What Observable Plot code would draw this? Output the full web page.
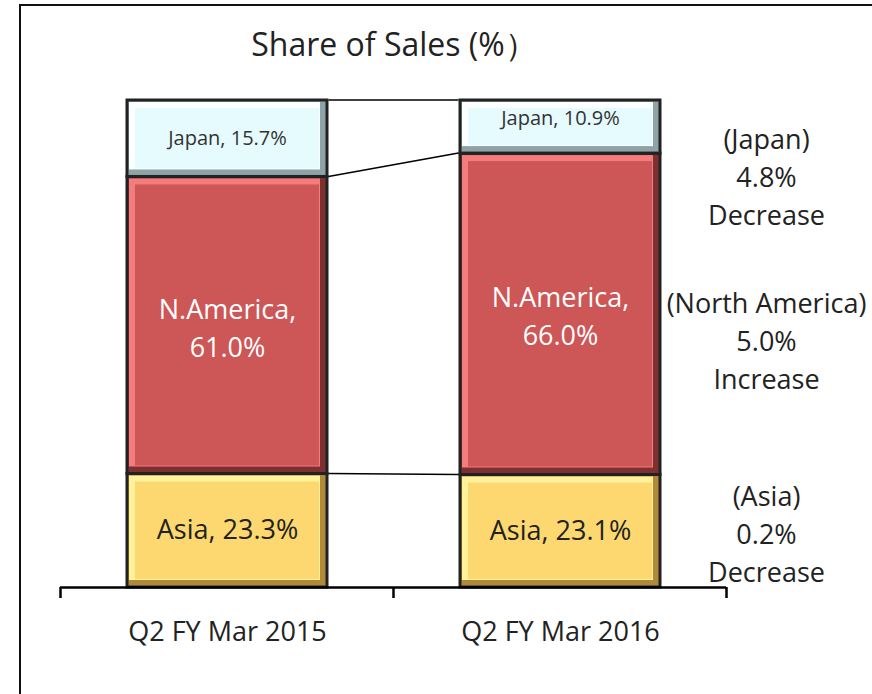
<!DOCTYPE html>
<html>
<head>
<meta charset="utf-8">
<script src="https://cdn.jsdelivr.net/npm/d3@7"></script>
<script src="https://cdn.jsdelivr.net/npm/@observablehq/plot@0.6"></script>
<style>
  html, body { margin: 0; padding: 0; background: #fff; }
  body { width: 872px; height: 694px; position: relative; overflow: hidden; font-family: "Open Sans", sans-serif; }
  #frame { position: absolute; left: 19px; top: 4px; width: 900px; height: 760px; border-left: 2.5px solid #111; border-top: 2.5px solid #111; }
  #title { position: absolute; top: 22px; left: 0; width: 788px; text-align: center; font-size: 32px; line-height: 44px; color: #222; letter-spacing: 0px; }
  #chart { position: absolute; left: 0; top: 88px; }
</style>
</head>
<body>
<div id="frame"></div>
<div id="title">Share of Sales (%）</div>
<div id="chart"></div>
<script>
const periods = ["Q2 FY Mar 2015", "Q2 FY Mar 2016"];
const regions = ["Asia", "N.America", "Japan"];           // bottom to top
const regionNames = ["Asia", "North America", "Japan"];
const share2015 = [23.3, 61.0, 15.7];
const share2016 = [23.1, 66.0, 10.9];

const mainColor = {"Asia": "#fdd870", "N.America": "#cd5656", "Japan": "#e6fbfe"};
const lightColor = {"Asia": "#fff29a", "N.America": "#f47c7c", "Japan": "#fbffff"};
const shadeColor = {"Asia": "#b08a3a", "N.America": "#7e3030", "Japan": "#8ea3a8"};

// build stacked rows
const rows = [];
[share2015, share2016].forEach((vals, pi) => {
  let lo = 0;
  vals.forEach((v, ri) => {
    rows.push({period: periods[pi], region: regions[ri], value: v, lo, hi: lo + v, mid: lo + v / 2});
    lo += v;
  });
});

const fmt = v => v.toFixed(1) + "%";
const changes = regions.map((r, i) => {
  const d = share2016[i] - share2015[i];
  return {region: r, text: `(${regionNames[i]})\n${fmt(Math.abs(d))}\n${d >= 0 ? "Increase" : "Decrease"}`};
});

const font = "'Open Sans', sans-serif";
const plot = Plot.plot({
  width: 872,
  height: 606,
  marginLeft: 60,
  marginRight: 146,
  marginTop: 12,
  marginBottom: 107,
  style: {fontFamily: font, background: "transparent", overflow: "visible"},
  x: {domain: periods, paddingInner: 0.4, paddingOuter: 0.2, label: null},
  y: {domain: [0, 100], axis: null},
  color: {type: "identity"},
  marks: [
    // bevel: shade layer with outline
    Plot.rectY(rows, {x: "period", y1: "lo", y2: "hi", fill: d => shadeColor[d.region], stroke: "#222", strokeWidth: 3}),
    // highlight layer
    Plot.rectY(rows, {x: "period", y1: "lo", y2: "hi", fill: d => lightColor[d.region], insetTop: 2, insetLeft: 2, insetRight: 7, insetBottom: 7}),
    // main face
    Plot.rectY(rows, {x: "period", y1: "lo", y2: "hi", fill: d => mainColor[d.region], insetTop: 8, insetLeft: 8, insetRight: 8, insetBottom: 8}),
    // baseline
    Plot.ruleY([0], {stroke: "#000", strokeWidth: 2.5}),
    // labels inside segments
    Plot.text(rows.filter(d => d.region === "Japan" && d.period === periods[0]), {x: "period", y: "mid", text: d => `${d.region}, ${fmt(d.value)}`, fontSize: 20, fill: "#333"}),
    Plot.text(rows.filter(d => d.region === "Japan" && d.period === periods[1]), {x: "period", y: "mid", dy: -8, text: d => `${d.region}, ${fmt(d.value)}`, fontSize: 20, fill: "#333"}),
    Plot.text(rows.filter(d => d.region === "N.America"), {x: "period", y: "mid", text: d => `${d.region},\n${fmt(d.value)}`, fontSize: 27, fill: "#fff", lineHeight: 1.41}),
    Plot.text(rows.filter(d => d.region === "Asia"), {x: "period", y: "mid", text: d => `${d.region}, ${fmt(d.value)}`, fontSize: 27, fill: "#222"}),
    // change annotations on the right
    Plot.text([changes[2]], {x: () => periods[1], y: 84.8, dx: 206, text: "text", fontSize: 27, fill: "#222", lineHeight: 1.41}),
    Plot.text([changes[1]], {x: () => periods[1], y: 51.1, dx: 206, text: "text", fontSize: 27, fill: "#222", lineHeight: 1.41}),
    Plot.text([changes[0]], {x: () => periods[1], y: 11.5, dx: 206, text: "text", fontSize: 27, fill: "#222", lineHeight: 1.41}),
    Plot.axisX({tickSize: 0, tickPadding: 34, fontSize: 27, label: null, color: "#222"})
  ]
});

document.getElementById("chart").appendChild(plot);

// connectors and category ticks, positioned through the plot's own scales
const svg = d3.select(plot.tagName.toLowerCase() === "svg" ? plot : plot.querySelector("svg"));
const sx = plot.scale("x"), sy = plot.scale("y");
const bw = sx.bandwidth;
const x0 = sx.apply(periods[0]), x1 = sx.apply(periods[1]);
const step = x1 - x0;
const gap = (step - bw) / 2;
const r2015 = rows.filter(d => d.period === periods[0]);
const r2016 = rows.filter(d => d.period === periods[1]);
const g = svg.append("g").attr("stroke", "#000").attr("stroke-width", 1.6);
r2015.forEach((d, i) => {
  g.append("line")
    .attr("x1", x0 + bw + 1.5).attr("y1", sy.apply(d.hi))
    .attr("x2", x1 - 1.5).attr("y2", sy.apply(r2016[i].hi));
});
const ticks = [x0 - gap, x1 - gap, x1 + bw + gap];
const y0 = sy.apply(0);
const gt = svg.append("g").attr("stroke", "#000").attr("stroke-width", 2.5);
ticks.forEach(t => gt.append("line").attr("x1", t).attr("x2", t).attr("y1", y0).attr("y2", y0 + 11));
</script>
</body>
</html>
